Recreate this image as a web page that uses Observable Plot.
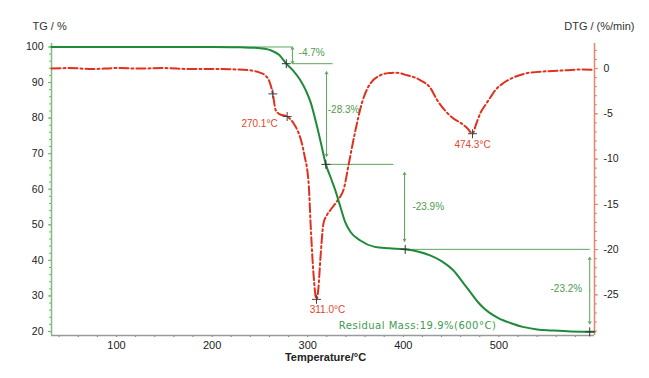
<!DOCTYPE html>
<html>
<head>
<meta charset="utf-8">
<script src="https://cdn.jsdelivr.net/npm/d3@7"></script>
<script src="https://cdn.jsdelivr.net/npm/@observablehq/plot@0.6"></script>
<style>
  html, body { margin: 0; padding: 0; background: #fff; }
  svg { display: block; }
</style>
</head>
<body>
<div id="chart"></div>
<script>
// ---- TG curve (mass %) ----
const tgTemp = [32, 80, 150, 200, 230, 245, 255, 262, 270, 277.6, 285, 292, 298, 303, 309, 314, 319, 324, 329, 334, 339, 345, 355, 370, 385, 402, 415, 428, 440, 452, 464, 472, 478, 484, 490, 498, 505, 512, 525, 540, 555, 575, 600];
const tgMass = [100, 100, 100, 100, 99.9, 99.8, 99.5, 99.0, 97.8, 95.3, 93.3, 90.8, 87.8, 84.5, 78.5, 72.8, 67.0, 63.3, 59.6, 55.2, 50.9, 47.9, 45.6, 43.8, 43.4, 43.1, 42.5, 41.4, 39.8, 37.3, 33.2, 30.4, 28.3, 26.6, 25.3, 24.0, 23.1, 22.4, 21.3, 20.6, 20.3, 20.0, 19.9];

// ---- DTG curve (%/min) ----
const dtgTemp = [32, 50, 75, 100, 125, 150, 175, 200, 225, 240, 250, 256, 259.5, 263.5, 266.5, 270, 278.5, 285.5, 290, 294, 297, 299.5, 301.2, 303, 306, 309.2, 311, 313.4, 316.5, 320, 324, 331, 338, 343, 350, 357, 362, 366, 376, 385, 392, 398, 404, 411, 418, 428, 435.5, 446, 452, 460, 467, 472.4, 476, 480.7, 486, 491, 497, 504.8, 515, 530, 550, 570, 585, 598];
const dtgRate = [0.0, 0.05, -0.05, 0.05, 0.0, 0.05, -0.05, -0.05, -0.1, -0.2, -0.45, -0.8, -1.3, -2.8, -4.6, -5.0, -5.3, -6.1, -7.0, -8.3, -9.8, -11.2, -13.0, -17.1, -22.6, -25.5, -24.5, -20.8, -17.1, -16.2, -15.6, -14.6, -13.2, -10.5, -6.8, -3.7, -2.3, -1.6, -0.74, -0.5, -0.45, -0.55, -0.75, -0.95, -1.3, -2.1, -3.5, -4.9, -5.5, -6.0, -6.6, -7.2, -6.2, -4.9, -4.0, -3.2, -2.3, -1.6, -1.0, -0.5, -0.3, -0.2, -0.1, -0.15];

// ---- Axis ticks ----
const tempTicks = [100, 200, 300, 400, 500];
const tempMinorTicks = d3.range(40, 600, 20);
const tgTicks = [20, 30, 40, 50, 60, 70, 80, 90, 100];
const tgMinorTicks = d3.range(20, 101, 2);
const dtgTicks = [0, -5, -10, -15, -20, -25];
const dtgMinorTicks = d3.range(2, -30, -1);

// ---- Step analysis (TG) ----
const stepLevels = [100, 95.3, 67.0, 43.1, 19.9];
const stepArrowTemp = [284, 319.7, 401.3, 595];
const stepLineStart = [202, 284, 319.7, 401.3];
const stepLineEnd = [284, 326, 389.7, 595];
const stepLabelText = ["-4.7%", "-28.3%", "-23.9%", "-23.2%"];
const stepLabelTemp = [290.5, 321, 409.5, 554];
const stepLabelMass = [98.5, 82.2, 55.0, 32.0];
const tgMarkTemp = [277.6, 319, 402, 595];
const tgMarkMass = [95.3, 67.0, 43.1, 19.9];
const residualText = ["Residual Mass:19.9%(600°C)"];
const residualTemp = [332.5];
const residualMass = [21.6];

// ---- DTG peaks ----
const dtgMarkTemp = [263.5, 278.5, 309.2, 472.4];
const dtgMarkRate = [-2.8, -5.3, -25.5, -7.2];
const peakText = ["270.1°C", "311.0°C", "474.3°C"];
const peakTemp = [249.6, 320.7, 472.4];
const peakRate = [-6.07, -26.65, -8.46];

// DTG is drawn on the TG scale through this linear mapping (dual axis)
const dtgToTg = d3.scaleLinear().domain([0, -25]).range([93.94, 30.31]);

const tgLine = tgTemp.map((t, i) => ({t, v: tgMass[i]}));
const dtgLine = dtgTemp.map((t, i) => ({t, v: dtgToTg(dtgRate[i])}));

const refLines = stepLineStart.map((s, i) => ({x1: s, x2: stepLineEnd[i], y: stepLevels[i]}));
const arrowsSmall = [{x: stepArrowTemp[0], a: stepLevels[0], b: stepLevels[1]}]
  .flatMap(d => { const m = (d.a + d.b) / 2; return [{x: d.x, y1: m, y2: d.a}, {x: d.x, y1: m, y2: d.b}]; });
const arrowsBig = stepArrowTemp.slice(1).map((x, i) => ({x, a: stepLevels[i + 1], b: stepLevels[i + 2]}))
  .flatMap(d => { const m = (d.a + d.b) / 2; return [{x: d.x, y1: m, y2: d.a}, {x: d.x, y1: m, y2: d.b}]; });
const stepLabels = stepLabelText.map((s, i) => ({s, t: stepLabelTemp[i], v: stepLabelMass[i]}));
const tgMarks = tgMarkTemp.map((t, i) => ({t, v: tgMarkMass[i]}));
const dtgMarks = dtgMarkTemp.map((t, i) => ({t, v: dtgToTg(dtgMarkRate[i])}));
const peaks = peakText.map((s, i) => ({s, t: peakTemp[i], v: dtgToTg(peakRate[i])}));
const residual = residualText.map((s, i) => ({s, t: residualTemp[i], v: residualMass[i]}));

const green = "#1e8a3a";
const annGreen = "#5da45d";
const red = "#e0301e";

const chart = Plot.plot({
  width: 649,
  height: 378,
  marginLeft: 51,
  marginRight: 55,
  marginTop: 43,
  marginBottom: 43,
  style: {fontFamily: "'Liberation Sans', Arial, sans-serif", fontSize: "10.5px", background: "#fff", color: "#222"},
  x: {domain: [32, 600]},
  y: {domain: [18.88, 100.98]},
  marks: [
    // axes
    Plot.axisY({anchor: "left", ticks: tgMinorTicks, tickSize: 2, tickFormat: () => "", label: null, stroke: "#6db56d"}),
    Plot.axisY({anchor: "left", ticks: tgTicks, tickSize: 3, tickPadding: 5, label: null, stroke: "#6db56d", fill: "#222"}),
    Plot.axisY({anchor: "right", ticks: dtgMinorTicks.map(d => dtgToTg(d)), tickSize: 2, tickFormat: () => "", label: null, stroke: "#e8806a"}),
    Plot.axisY({anchor: "right", ticks: dtgTicks.map(d => dtgToTg(d)), tickSize: 3, tickPadding: 6, label: null, stroke: "#e8806a", fill: "#222",
      tickFormat: d => String(Math.round(dtgToTg.invert(d)))}),
    Plot.axisX({ticks: tempMinorTicks, tickSize: 2, tickFormat: () => "", label: null, stroke: "#777"}),
    Plot.axisX({ticks: tempTicks, tickSize: 0, tickPadding: 6, label: null, fill: "#222", fontSize: 11}),
    Plot.ruleX([32], {stroke: "#7bbf7b", strokeWidth: 1.5}),
    Plot.ruleX([600], {stroke: "#ea8270", strokeWidth: 1.5}),
    Plot.ruleY([18.88], {stroke: "#9a9a9a", strokeWidth: 1.5}),
    // axis titles
    Plot.text(["TG / %"], {text: d => d, frameAnchor: "top-left", dx: -19, dy: -21, textAnchor: "start", fontSize: 11, fill: "#333"}),
    Plot.text(["DTG / (%/min)"], {text: d => d, frameAnchor: "top-right", dx: 40, dy: -21, textAnchor: "end", fontSize: 11, fill: "#333"}),
    Plot.text(["Temperature/°C"], {text: d => d, frameAnchor: "bottom", dx: 2.5, dy: 25, fontSize: 11, fontWeight: "bold", fill: "#222"}),
    // annotation lines
    Plot.link(refLines, {x1: "x1", x2: "x2", y1: "y", y2: "y", stroke: annGreen, strokeWidth: 1}),
    Plot.arrow(arrowsSmall, {x1: "x", x2: "x", y1: "y1", y2: "y2", stroke: annGreen, strokeWidth: 1, headLength: 4, insetEnd: 0}),
    Plot.arrow(arrowsBig, {x1: "x", x2: "x", y1: "y1", y2: "y2", stroke: annGreen, strokeWidth: 1, headLength: 4, insetEnd: 8}),
    // curves
    Plot.line(dtgLine, {x: "t", y: "v", stroke: red, strokeWidth: 2, strokeDasharray: "9,3,2,3", curve: "monotone-x"}),
    Plot.line(tgLine, {x: "t", y: "v", stroke: green, strokeWidth: 2, curve: "monotone-x"}),
    // markers
    Plot.dot(tgMarks, {x: "t", y: "v", symbol: "plus", r: 3, stroke: "#333", strokeWidth: 1}),
    Plot.dot(dtgMarks, {x: "t", y: "v", symbol: "plus", r: 3, stroke: "#444", strokeWidth: 1}),
    // labels
    Plot.text(stepLabels, {x: "t", y: "v", text: "s", textAnchor: "start", fill: "#4f9a4f", fontSize: 10}),
    Plot.text(peaks, {x: "t", y: "v", text: "s", fill: "#e2452e", fontSize: 10}),
    Plot.text(residual, {x: "t", y: "v", text: "s", textAnchor: "start", fill: "#3f9a4f", fontSize: 10,
      fontFamily: "'DejaVu Sans', Verdana, sans-serif"})
  ]
});

// letter spacing for the residual mass label
chart.querySelectorAll("text").forEach(t => {
  if (t.textContent.startsWith("Residual")) t.setAttribute("letter-spacing", "0.5");
});

document.getElementById("chart").appendChild(chart);
</script>
</body>
</html>
